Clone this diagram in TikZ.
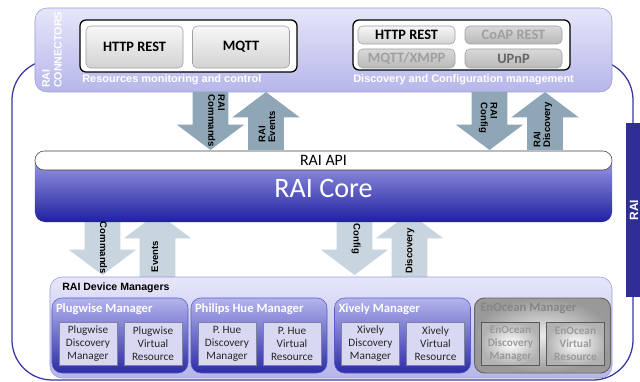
\documentclass[tikz,border=0pt]{standalone}
\usepackage{fontspec}
\setmainfont{Carlito}
\newfontfamily\arialfont{Liberation Sans}
\usetikzlibrary{shapes.arrows}
\definecolor{framecol}{HTML}{3838A0}
\definecolor{barcol}{HTML}{2E2E96}
\definecolor{lavtop}{HTML}{E6E6FA}
\definecolor{lavbot}{HTML}{B6B6EA}
\definecolor{lavline}{HTML}{9C9CDA}
\definecolor{coretop}{HTML}{A4A4EA}
\definecolor{corebot}{HTML}{2020A0}
\definecolor{mgrtop}{HTML}{B4B4EE}
\definecolor{mgrbot}{HTML}{2C2CA6}
\definecolor{mgrline}{HTML}{5A5AC8}
\definecolor{cellfill}{HTML}{D8D8F2}
\definecolor{cellline}{HTML}{8080A0}
\definecolor{blkdark}{HTML}{8FA6B6}
\definecolor{blklight}{HTML}{C8D5DF}

\begin{document}
\begin{tikzpicture}[x=0.25mm, y=-0.25mm,
  layerbox/.style={draw=lavline, rounded corners=3mm, top color=lavtop,
                   bottom color=lavbot},
  groupbox/.style={draw=black, line width=0.9pt, fill=white, rounded corners=1.5mm,
                   minimum width=5.425cm},
  btn/.style={draw=gray!75, rounded corners=1.2mm, top color=gray!6,
              bottom color=gray!35, minimum width=2.425cm, inner sep=0pt,
              font=\bfseries\fontsize{10.2}{12}\selectfont},
  offbtn/.style={btn, top color=gray!30, bottom color=gray!55, text=#1},
  caption/.style={anchor=west, inner sep=0pt, text=white,
                  font=\arialfont\bfseries\fontsize{7.8}{9}\selectfont},
  blk/.style={single arrow, fill=#1, anchor=tail, inner xsep=0pt,
              inner ysep=0.4375cm, outer sep=0pt, single arrow head extend=0.4cm,
              single arrow tip angle=106},
  tag/.style={align=left, inner sep=0pt,
              font=\arialfont\bfseries\fontsize{6.8}{7}\selectfont},
  mgr/.style={draw=mgrline, rounded corners=2.5mm, top color=mgrtop,
              bottom color=mgrbot, minimum width=3.4cm, minimum height=1.875cm},
  mgroff/.style={mgr, draw=black!60, line width=0.7pt, inner color=gray!15,
                 outer color=gray!80},
  mgrname/.style={anchor=west, inner sep=0pt, text=#1,
                  font=\bfseries\fontsize{9}{11}\selectfont},
  cell/.style={draw=cellline, fill=cellfill, minimum width=1.45cm,
               minimum height=1.075cm, inner sep=0pt, align=center,
               text=black!85, font=\fontsize{8}{9.2}\selectfont},
  celloff/.style={cell, draw=black!65, line width=0.6pt, inner color=white,
                  outer color=gray!60, text=black!40,
                  font=\bfseries\fontsize{8}{9.2}\selectfont}
]
\useasboundingbox (0,0) rectangle (640,382);
\draw[framecol, line width=0.9pt, rounded corners=1cm] (12,60) rectangle (633,380);
\node[fill=barcol, rotate=90, minimum width=4.35cm, minimum height=0.4cm, inner sep=0pt,
      text=white, font=\arialfont\bfseries\fontsize{8.5}{10}\selectfont] (side) at (634,210) {RAI};

\node[layerbox, minimum width=14.425cm, minimum height=2.1cm] (con) at (323.5,50) {};
\node[rotate=90, align=left, inner sep=0pt, text=white,
      font=\arialfont\bfseries\fontsize{7.6}{8.5}\selectfont] (conname) at (52,50) {RAI\\CONNECTORS};
\node[groupbox, minimum height=1.3cm]        (mon)   at (188.5,46)  {};
\node[btn, minimum height=1.05cm]            (http)  at (134.5,47)  {HTTP REST};
\node[btn, minimum height=1.05cm]            (mqtt)  at (241,47)    {MQTT};
\node[caption]                               (moncap) at (82,80)    {Resources monitoring and control};
\node[groupbox, minimum height=1.25cm]       (dis)   at (461.5,45)  {};
\node[btn, minimum height=0.45cm]            (dhttp) at (406.5,35)  {HTTP REST};
\node[offbtn=gray!75, minimum height=0.45cm] (coap)  at (513.5,35)  {CoAP REST};
\node[offbtn=gray!75, minimum height=0.475cm](xmpp)  at (406.5,58.5){MQTT/XMPP};
\node[offbtn=black!60, minimum height=0.475cm](upnp) at (513.5,58.5){UPnP};
\node[caption]                               (discap) at (353,80)   {Discovery and Configuration management};

\node[blk=blkdark, rotate=-90, minimum height=1.45cm] (cmd) at (210.5,92) {};
\node[blk=blkdark, rotate=90,  minimum height=1.45cm] (evt) at (266,150)  {};
\node[blk=blkdark, rotate=-90, minimum height=1.45cm] (cfg) at (489.5,92) {};
\node[blk=blkdark, rotate=90,  minimum height=1.45cm] (dsc) at (545,150)  {};
\node[tag, rotate=-90] (cmdtag) at (216.5,121) {RAI\\Commands};
\node[tag, rotate=90]  (evttag) at (267,127)   {RAI\\Events};
\node[tag, rotate=-90] (cfgtag) at (488,118)   {RAI\\Config};
\node[tag, rotate=90]  (dsctag) at (543,125)   {RAI\\Discovery};

\node[blk=blklight, rotate=-90, minimum height=1.325cm] (cmdb) at (102.5,222) {};
\node[blk=blklight, rotate=90,  minimum height=1.6cm]   (evtb) at (157.5,277) {};
\node[blk=blklight, rotate=-90, minimum height=1.325cm] (cfgb) at (354.5,222) {};
\node[blk=blklight, rotate=90,  minimum height=1.6cm]   (dscb) at (409.5,277) {};

\node[rounded corners=2.5mm, top color=coretop, bottom color=corebot,
      minimum width=14.425cm, minimum height=1.7cm, text=white,
      font=\fontsize{20}{24}\selectfont] (core) at (323.5,188) {RAI Core};
\node[draw=black!75, fill=white, rounded corners=2.3mm, minimum width=14.425cm,
      minimum height=0.475cm, inner sep=0pt,
      font=\fontsize{11.3}{13}\selectfont] (api) at (323.5,160.5) {RAI API};

\node[tag, rotate=-90] (cmdbtag) at (103.5,248) {Commands};
\node[tag, rotate=90]  (evtbtag) at (155,256.5) {Events};
\node[tag, rotate=-90] (cfgbtag) at (356,239)   {Config};
\node[tag, rotate=90]  (dscbtag) at (410,251)   {Discovery};

\node[layerbox, minimum width=14.05cm, minimum height=2.525cm] (dm) at (331,327.5) {};
\node[anchor=west, inner sep=0pt,
      font=\arialfont\bfseries\fontsize{7.5}{9}\selectfont] (dmname) at (62,288) {RAI Device Managers};
\node[mgr]    (pw) at (120,335.5)   {};
\node[mgr]    (ph) at (259,335.5)   {};
\node[mgr]    (xv) at (402.5,335.5) {};
\node[mgroff] (eo) at (542.5,335.5) {};
\node[mgrname=white]   (pwname) at ([xshift=0.1cm,yshift=-0.275cm]pw.north west) {Plugwise Manager};
\node[mgrname=white]   (phname) at ([xshift=0.1cm,yshift=-0.275cm]ph.north west) {Philips Hue Manager};
\node[mgrname=white]   (xvname) at ([xshift=0.1cm,yshift=-0.275cm]xv.north west) {Xively Manager};
\node[mgrname=black!48](eoname) at ([xshift=0.15cm,yshift=-0.275cm]eo.north west) {EnOcean Manager};
\node[cell]    (pwdisc) at ([xshift=-0.8cm,yshift=-0.2cm]pw.center)  {Plugwise\\Discovery\\Manager};
\node[cell]    (pwvirt) at ([xshift=0.825cm,yshift=-0.2cm]pw.center) {Plugwise\\Virtual\\Resource};
\node[cell]    (phdisc) at ([xshift=-0.8cm,yshift=-0.2cm]ph.center)  {P. Hue\\Discovery\\Manager};
\node[cell]    (phvirt) at ([xshift=0.825cm,yshift=-0.2cm]ph.center) {P. Hue\\Virtual\\Resource};
\node[cell]    (xvdisc) at ([xshift=-0.8cm,yshift=-0.2cm]xv.center)  {Xively\\Discovery\\Manager};
\node[cell]    (xvvirt) at ([xshift=0.825cm,yshift=-0.2cm]xv.center) {Xively\\Virtual\\Resource};
\node[celloff] (eodisc) at ([xshift=-0.8cm,yshift=-0.2cm]eo.center)  {EnOcean\\Discovery\\Manager};
\node[celloff] (eovirt) at ([xshift=0.825cm,yshift=-0.2cm]eo.center) {EnOcean\\Virtual\\Resource};
\end{tikzpicture}
\end{document}
